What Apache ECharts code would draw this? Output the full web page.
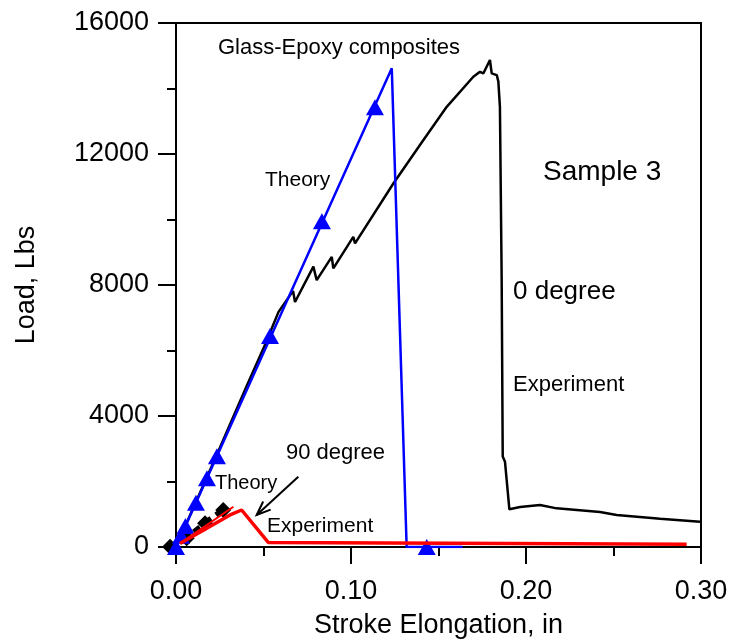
<!DOCTYPE html>
<html>
<head>
<meta charset="utf-8">
<script src="https://cdn.jsdelivr.net/npm/echarts@6/dist/echarts.min.js"></script>
<style>
  html, body { margin: 0; padding: 0; background: #fff; }
  #main { width: 730px; height: 640px; }
</style>
</head>
<body>
<div id="main"></div>
<script>
// x = stroke elongation (in), y = load (lbs)
const theory0 = [[0, 0], [0.1233, 14615], [0.1318, 0], [0.1638, 0]];
const theory0Marks = [[0, 0], [0.0029, 340], [0.0054, 640], [0.0114, 1350], [0.0177, 2100],
  [0.0234, 2770], [0.0537, 6440], [0.0834, 9950], [0.1137, 13430], [0.1433, 0]];
const exp0 = [[0, 0], [0.0232, 2800], [0.0402, 4890], [0.0503, 6110], [0.0586, 7180],
  [0.0669, 7820], [0.0680, 7480], [0.0785, 8560], [0.0804, 8150], [0.0890, 8860],
  [0.0899, 8510], [0.1013, 9470], [0.1023, 9270], [0.1242, 11100], [0.1400, 12320],
  [0.1547, 13440], [0.1699, 14360], [0.1737, 14510], [0.1756, 14460], [0.1794, 14870],
  [0.1804, 14460], [0.1833, 14410], [0.1842, 14210], [0.1851, 13440], [0.1861, 8150],
  [0.1867, 2760], [0.1880, 2600], [0.1905, 1150], [0.1966, 1220], [0.2080, 1280],
  [0.2175, 1180], [0.2423, 1070], [0.2518, 980], [0.2766, 860], [0.2994, 770]];
const theory90 = [[-0.0034, 10], [0.0061, 265], [0.0166, 724], [0.0270, 1129]];
const exp90 = [[0.0023, 110], [0.0309, 980], [0.0375, 1130], [0.0527, 140], [0.2918, 85]];
const exp90Load = [[0.0023, 110], [0.0328, 1230]];
const arrow90 = [[0.0699, 2146, 0.0461, 977]];
const xTicks = { min: 0, max: 0.3, step: 0.1 };
const yTicks = { min: 0, max: 16000, step: 4000 };

const FONT = "'Liberation Sans', Arial, sans-serif";
const chart = echarts.init(document.getElementById('main'));

function txt(text, x, y, size) {
  return {
    type: 'text', x: x, y: y, z: 100,
    style: { text: text, font: size + 'px ' + FONT, fill: '#000', textVerticalAlign: 'middle' }
  };
}

chart.setOption({
  animation: false,
  backgroundColor: '#fff',
  grid: { left: 176, right: 29, top: 23, bottom: 93, outerBoundsMode: 'none',
    show: true, borderColor: '#000', borderWidth: 2 },
  xAxis: {
    type: 'value', min: xTicks.min, max: xTicks.max, interval: xTicks.step,
    name: 'Stroke Elongation, in', nameLocation: 'middle', nameGap: 65,
    nameTextStyle: { fontFamily: FONT, fontSize: 27, color: '#000' },
    axisLine: { lineStyle: { color: '#000', width: 2 } },
    axisTick: { inside: false, length: 17, lineStyle: { color: '#000', width: 2 } },
    minorTick: { show: true, splitNumber: 2, length: 9, lineStyle: { color: '#000', width: 2 } },
    axisLabel: { margin: 31, fontFamily: FONT, fontSize: 27, color: '#000',
      formatter: v => v.toFixed(2) },
    splitLine: { show: false }
  },
  yAxis: {
    type: 'value', min: yTicks.min, max: yTicks.max, interval: yTicks.step,
    name: 'Load, Lbs', nameLocation: 'middle', nameGap: 136,
    nameTextStyle: { fontFamily: FONT, fontSize: 27, color: '#000' },
    axisLine: { show: true, lineStyle: { color: '#000', width: 2 } },
    axisTick: { show: true, inside: false, length: 18, lineStyle: { color: '#000', width: 2 } },
    minorTick: { show: true, splitNumber: 2, length: 9, lineStyle: { color: '#000', width: 2 } },
    axisLabel: { margin: 27, fontFamily: FONT, fontSize: 27, color: '#000',
      formatter: v => String(v) },
    splitLine: { show: false }
  },
  series: [
    { type: 'line', data: exp0, symbol: 'none', lineStyle: { color: '#000', width: 2.5 }, z: 2 },
    { type: 'line', data: theory90, symbol: 'diamond', symbolSize: 16, clip: false,
      itemStyle: { color: '#000' }, lineStyle: { color: '#000', width: 6, type: [8, 6] }, z: 3 },
    { type: 'line', data: theory0, symbol: 'none', lineStyle: { color: '#0000ff', width: 2.5 }, z: 4 },
    { type: 'scatter', data: theory0Marks, symbol: 'triangle', symbolSize: [18, 16], clip: false,
      itemStyle: { color: '#0000ff', opacity: 1 }, z: 5 },
    { type: 'line', data: exp90Load, symbol: 'none', lineStyle: { color: '#ff0000', width: 2 }, z: 6 },
    { type: 'line', data: exp90, symbol: 'none', lineStyle: { color: '#ff0000', width: 3.5 }, z: 6 },
    {
      type: 'custom', data: arrow90, clip: false, z: 7,
      renderItem: function (params, api) {
        const a = api.coord([api.value(0), api.value(1)]);
        const b = api.coord([api.value(2), api.value(3)]);
        const ang = Math.atan2(a[1] - b[1], a[0] - b[0]);
        const L = 15, w = 0.38;
        const h1 = [b[0] + L * Math.cos(ang + w), b[1] + L * Math.sin(ang + w)];
        const h2 = [b[0] + L * Math.cos(ang - w), b[1] + L * Math.sin(ang - w)];
        const st = { stroke: '#000', lineWidth: 2, fill: null };
        return {
          type: 'group', children: [
            { type: 'polyline', shape: { points: [a, b] }, style: st },
            { type: 'polyline', shape: { points: [h1, b, h2] }, style: st }
          ]
        };
      }
    }
  ],
  graphic: [
    txt('Glass-Epoxy composites', 218, 48, 22),
    txt('Theory', 265, 180, 21),
    txt('Sample 3', 543, 172, 28),
    txt('0 degree', 513, 292, 26),
    txt('Experiment', 513, 385, 22),
    txt('90 degree', 286, 453, 22),
    txt('Theory', 215, 483, 20),
    txt('Experiment', 267, 526, 21)
  ]
});
</script>
</body>
</html>
